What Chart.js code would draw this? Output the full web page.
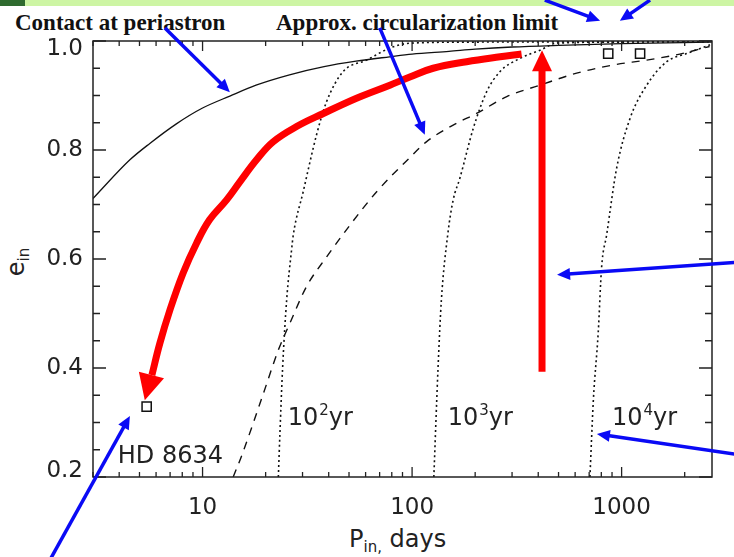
<!DOCTYPE html>
<html>
<head>
<meta charset="utf-8">
<script src="https://cdn.jsdelivr.net/npm/chart.js@4.4.1/dist/chart.umd.min.js"></script>
<style>
  html, body { margin: 0; padding: 0; background: #fff; }
  #wrap { position: relative; width: 734px; height: 557px; overflow: hidden; background: #fff; }
  #band { position: absolute; left: 0; top: 0; width: 734px; height: 6px; background: #cdf5a4; }
  #band-dark { position: absolute; left: 0; top: 0; width: 25px; height: 6px; background: #2f6b2f; }
  canvas { position: absolute; left: 0; top: 0; }
  .head { position: absolute; font: bold 23px "Liberation Serif", "Times New Roman", serif; line-height: 23px; color: #111; white-space: nowrap; }
  .axis-title { position: absolute; font: 24px "DejaVu Sans", sans-serif; line-height: 24px; color: #222; white-space: nowrap; }
  .axis-title sub { font-size: 15px; vertical-align: -5px; }
</style>
</head>
<body>
<div id="wrap">
  <div id="band"></div>
  <div id="band-dark"></div>
  <div class="head" style="left:15px; top:11px;">Contact at periastron</div>
  <div class="head" style="left:276px; top:11px;">Approx. circularization limit</div>
  <div class="axis-title" style="left:349px; top:527px;">P<sub>in,</sub> days</div>
  <div class="axis-title" style="left:0px; top:246px; width:40px; text-align:center; transform:rotate(-90deg);">e<sub>in</sub></div>
  <canvas id="chart" width="734" height="557"></canvas>
</div>
<script>
// axis ranges and tick labels
const xMin = 3, xMax = 2700;
const yMin = 0.2, yMax = 1.0;
const xTickValues = [10, 100, 1000];
const xTickLabels = ['10', '100', '1000'];
const yTickValues = [0.2, 0.4, 0.6, 0.8, 1.0];
const yTickLabels = ['0.2', '0.4', '0.6', '0.8', '1.0'];

// contact at periastron (solid)
const contactP = [3, 4.5, 5.6, 7.5, 10, 13.5, 18, 26, 38, 54, 78, 100, 150, 200, 300, 500, 1000, 2700];
const contactE = [0.711, 0.782, 0.812, 0.848, 0.877, 0.899, 0.919, 0.938, 0.953, 0.963, 0.971, 0.976, 0.981, 0.985, 0.989, 0.992, 0.995, 0.998];

// approx. circularization limit (dashed)
const circP = [14.0, 15.4, 19.5, 23.0, 26.1, 31.3, 39.1, 50.5, 67.6, 97.5, 117, 163, 203, 283, 408, 610, 912, 1319, 1897, 2630];
const circE = [0.2, 0.24, 0.353, 0.433, 0.482, 0.549, 0.604, 0.662, 0.723, 0.786, 0.815, 0.849, 0.867, 0.898, 0.919, 0.941, 0.956, 0.965, 0.976, 0.990];

// timescale curves (dotted): 10^2, 10^3, 10^4 yr
const t2P = [23.0, 23.4, 24.1, 25.2, 26.6, 27.1, 30.2, 35.0, 39.1, 46.9, 60.7, 78.3, 97.5, 200, 2700];
const t2E = [0.20, 0.28, 0.40, 0.525, 0.617, 0.644, 0.723, 0.828, 0.889, 0.944, 0.965, 0.987, 0.996, 0.998, 0.999];
const t3P = [127, 133, 138, 148, 157, 169, 196, 227, 263, 327, 408, 490, 1000, 2700];
const t3E = [0.20, 0.40, 0.525, 0.645, 0.708, 0.748, 0.840, 0.907, 0.944, 0.968, 0.983, 0.996, 0.998, 0.999];
const t4P = [706, 733, 773, 803, 848, 946, 1097, 1318, 1641, 2043, 2640];
const t4E = [0.20, 0.341, 0.464, 0.586, 0.644, 0.766, 0.858, 0.919, 0.962, 0.977, 0.993];

// observed systems (squares)
const starP = [5.41, 863, 1225];
const starE = [0.329, 0.977, 0.977];

// red evolution track (ends at arrow head)
const trackP = [333, 263, 182, 126, 97.5, 78.3, 54.3, 37.7, 28.1, 21.7, 18.1, 15.1, 13.0, 10.8, 9.36, 8.07, 6.98, 6.25, 5.73];
const trackE = [0.976, 0.971, 0.962, 0.950, 0.934, 0.919, 0.895, 0.867, 0.843, 0.815, 0.782, 0.742, 0.708, 0.672, 0.629, 0.574, 0.506, 0.445, 0.387];
const trackTipP = 5.30, trackTipE = 0.341;

// red vertical arrow
const riseP = 417, riseFromE = 0.393, riseToE = 0.983;

// blue pointer arrows
const blueFromP = [6.61, 70.1, 430, 1367, 3680, 3680, 1.87];
const blueFromE = [1.024, 1.024, 1.075, 1.075, 0.5945, 0.2404, 0.048];
const blueToP = [13.5, 115, 789, 981, 492, 762, 4.50];
const blueToE = [0.906, 0.828, 1.037, 1.037, 0.571, 0.279, 0.312];

// text labels inside the plot
const labelText = ['HD 8634', '10|2|yr', '10|3|yr', '10|4|yr'];
const labelP = [3.94, 25.5, 148, 899];
const labelE = [0.226, 0.295, 0.295, 0.295];

const pts = (xs, ys) => xs.map((x, i) => ({ x: x, y: ys[i] }));

function arrow(ctx, x0, y0, x1, y1, lw, headLen, headHalf, color) {
    const dx = x1 - x0, dy = y1 - y0;
    const len = Math.hypot(dx, dy);
    const ux = dx / len, uy = dy / len;
    const bx = x1 - ux * headLen, by = y1 - uy * headLen;
    ctx.save();
    ctx.strokeStyle = color;
    ctx.fillStyle = color;
    ctx.lineWidth = lw;
    ctx.lineCap = 'butt';
    if (lw > 0) {
        ctx.beginPath();
        ctx.moveTo(x0, y0);
        ctx.lineTo(bx + ux * 2, by + uy * 2);
        ctx.stroke();
    }
    ctx.beginPath();
    ctx.moveTo(x1, y1);
    ctx.lineTo(bx - uy * headHalf, by + ux * headHalf);
    ctx.lineTo(bx + uy * headHalf, by - ux * headHalf);
    ctx.closePath();
    ctx.fill();
    ctx.restore();
}

const idlAxes = {
    id: 'idlAxes',
    afterDraw(chart) {
        const ctx = chart.ctx;
        const xs = chart.scales.x, ys = chart.scales.y;
        const a = chart.chartArea;
        ctx.save();

        // red arrow heads
        const n = trackP.length - 1;
        arrow(ctx, xs.getPixelForValue(trackP[n - 1]), ys.getPixelForValue(trackE[n - 1]),
            xs.getPixelForValue(trackTipP), ys.getPixelForValue(trackTipE), 0, 26, 13, '#ff0000');
        const rx = xs.getPixelForValue(riseP);
        arrow(ctx, rx, ys.getPixelForValue(riseFromE), rx, ys.getPixelForValue(riseToE), 7, 21, 10, '#ff0000');

        // frame
        ctx.strokeStyle = '#222';
        ctx.lineWidth = 1.5;
        ctx.strokeRect(a.left, a.top, a.right - a.left, a.bottom - a.top);

        // y ticks, inward on both sides
        ctx.lineWidth = 1.3;
        ctx.beginPath();
        for (let k = 0; k <= 16; k++) {
            const v = yMin + k * 0.05;
            const y = ys.getPixelForValue(v);
            const len = (k % 4 === 0) ? 13 : 7;
            ctx.moveTo(a.left, y); ctx.lineTo(a.left + len, y);
            ctx.moveTo(a.right, y); ctx.lineTo(a.right - len, y);
        }
        // x ticks, inward top and bottom
        for (let d = 1; d <= 1000; d *= 10) {
            for (let m = 1; m <= 9; m++) {
                const v = m * d;
                if (v < xMin || v > xMax) continue;
                const x = xs.getPixelForValue(v);
                const len = (m === 1) ? 10 : 5;
                ctx.moveTo(x, a.bottom); ctx.lineTo(x, a.bottom - len);
                ctx.moveTo(x, a.top); ctx.lineTo(x, a.top + len);
            }
        }
        ctx.stroke();

        // tick labels
        ctx.fillStyle = '#222';
        ctx.font = '23px "DejaVu Sans", sans-serif';
        ctx.textAlign = 'right';
        ctx.textBaseline = 'middle';
        yTickValues.forEach((v, i) => {
            let y = ys.getPixelForValue(v);
            if (v === yMax) y += 8;
            if (v === yMin) y -= 6;
            ctx.fillText(yTickLabels[i], a.left - 10, y);
        });
        ctx.textAlign = 'center';
        ctx.textBaseline = 'alphabetic';
        xTickValues.forEach((v, i) => {
            ctx.fillText(xTickLabels[i], xs.getPixelForValue(v), a.bottom + 37);
        });

        // in-plot labels
        ctx.textAlign = 'left';
        labelText.forEach((t, i) => {
            let x = xs.getPixelForValue(labelP[i]);
            const y = ys.getPixelForValue(labelE[i]);
            const parts = t.split('|');
            ctx.font = '24px "DejaVu Sans", sans-serif';
            ctx.fillText(parts[0], x, y);
            x += ctx.measureText(parts[0]).width;
            if (parts.length > 1) {
                ctx.font = '15px "DejaVu Sans", sans-serif';
                ctx.fillText(parts[1], x + 1, y - 10);
                x += ctx.measureText(parts[1]).width + 1;
                ctx.font = '24px "DejaVu Sans", sans-serif';
                ctx.fillText(parts[2], x, y);
            }
        });

        // blue pointers
        blueFromP.forEach((p, i) => {
            arrow(ctx, xs.getPixelForValue(p), ys.getPixelForValue(blueFromE[i]),
                xs.getPixelForValue(blueToP[i]), ys.getPixelForValue(blueToE[i]), 3.5, 13, 6, '#0a0af5');
        });
        ctx.restore();
    }
};

const lineSet = (label, xs, ys, dash, width) => ({
    label: label,
    data: pts(xs, ys),
    showLine: true,
    borderColor: '#111',
    borderWidth: width,
    borderDash: dash,
    pointRadius: 0,
    cubicInterpolationMode: 'monotone',
    order: 2
});

new Chart(document.getElementById('chart'), {
    type: 'scatter',
    data: {
        datasets: [
            {
                label: 'track',
                data: pts(trackP, trackE),
                showLine: true,
                borderColor: '#ff0000',
                borderWidth: 7,
                pointRadius: 0,
                tension: 0.4,
                order: 0
            },
            {
                label: 'systems',
                data: pts(starP, starE),
                pointStyle: 'rect',
                pointRadius: 6.5,
                borderColor: '#111',
                borderWidth: 1.5,
                backgroundColor: 'rgba(0,0,0,0)',
                order: 1
            },
            lineSet('contact', contactP, contactE, [], 1.3),
            lineSet('circularization', circP, circE, [8, 7], 1.4),
            lineSet('1e2 yr', t2P, t2E, [2, 3], 1.6),
            lineSet('1e3 yr', t3P, t3E, [2, 3], 1.6),
            lineSet('1e4 yr', t4P, t4E, [2, 3], 1.6)
        ]
    },
    options: {
        responsive: false,
        animation: false,
        devicePixelRatio: 1,
        layout: { padding: { left: 93, right: 22, top: 41, bottom: 80 } },
        plugins: { legend: { display: false }, tooltip: { enabled: false } },
        scales: {
            x: { type: 'logarithmic', min: xMin, max: xMax, display: false },
            y: { type: 'linear', min: yMin, max: yMax, display: false }
        }
    },
    plugins: [idlAxes]
});
</script>
</body>
</html>
